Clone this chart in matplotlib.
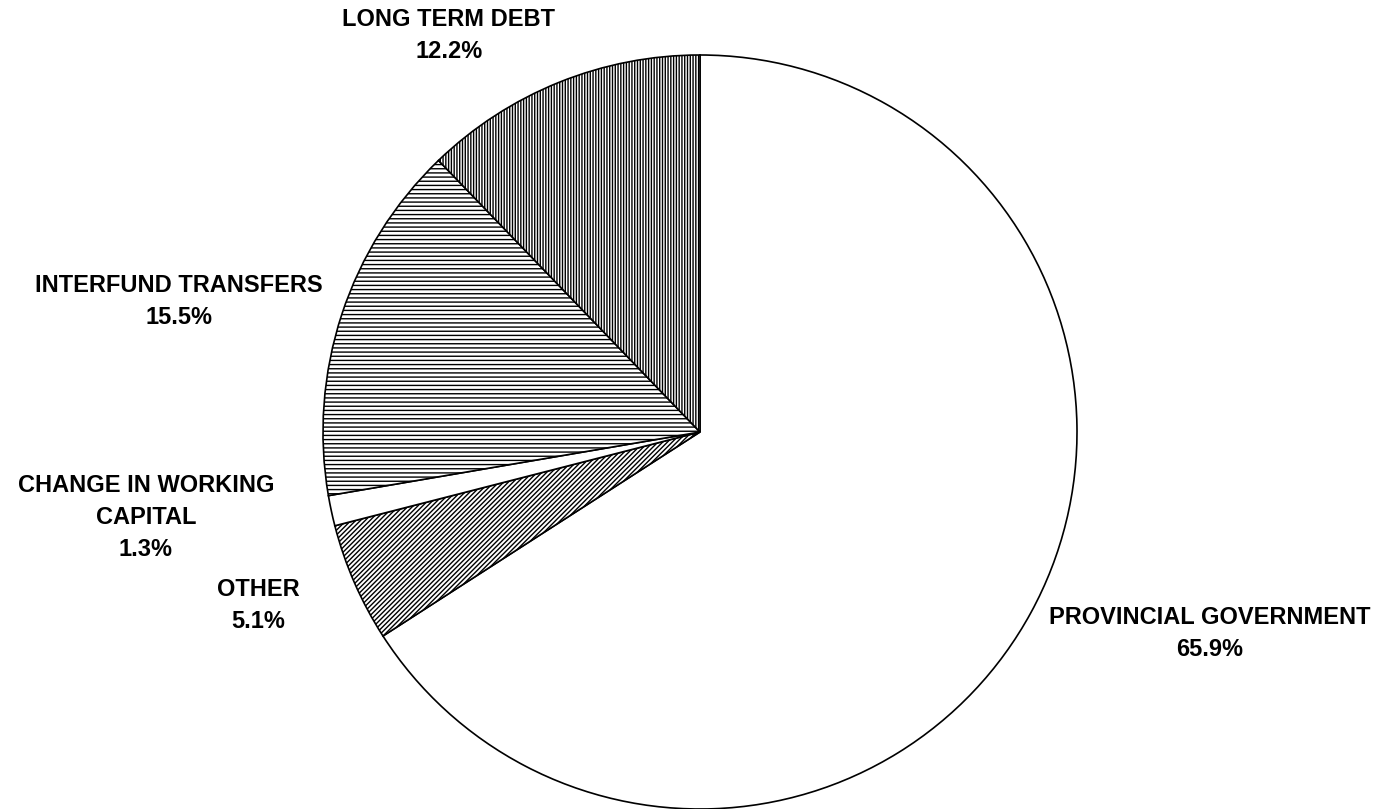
import matplotlib
matplotlib.use("Agg")
import matplotlib.pyplot as plt

labels = ["PROVINCIAL GOVERNMENT", "OTHER", "CHANGE IN WORKING\nCAPITAL", "INTERFUND TRANSFERS", "LONG TERM DEBT"]
shares = [65.9, 5.1, 1.3, 15.5, 12.2]
hatches = ["", "///////", "", "----", "||||||"]

# label anchors in pixel space of the reference (centre of the text block)
label_px = [(1210, 633), (258, 606), (146, 518), (179, 301), (449, 36)]

W, H = 1383, 809
cx, cy, R = 700, 432, 377

plt.rcParams["font.family"] = ["Liberation Sans", "DejaVu Sans"]
plt.rcParams["hatch.linewidth"] = 1.0

fig = plt.figure(figsize=(W / 100, H / 100), dpi=100)
ax = fig.add_axes([(cx - R) / W, (H - cy - R) / H, 2 * R / W, 2 * R / H])

wedges, _ = ax.pie(shares, startangle=90, counterclock=False, radius=1,
                   colors=["white"] * len(shares),
                   wedgeprops=dict(edgecolor="black", linewidth=1.2))
for w, h in zip(wedges, hatches):
    w.set_hatch(h)

ax.set_xlim(-1, 1)
ax.set_ylim(-1, 1)
ax.set_aspect("equal")
ax.axis("off")

for lab, val, (px, py) in zip(labels, shares, label_px):
    x = (px - cx) / R
    y = (cy - py) / R
    ax.text(x, y, f"{lab}\n{val:.1f}%", ha="center", va="center",
            fontsize=17, fontweight="bold", linespacing=1.5, clip_on=False)

fig.savefig("out.png", dpi=100)
